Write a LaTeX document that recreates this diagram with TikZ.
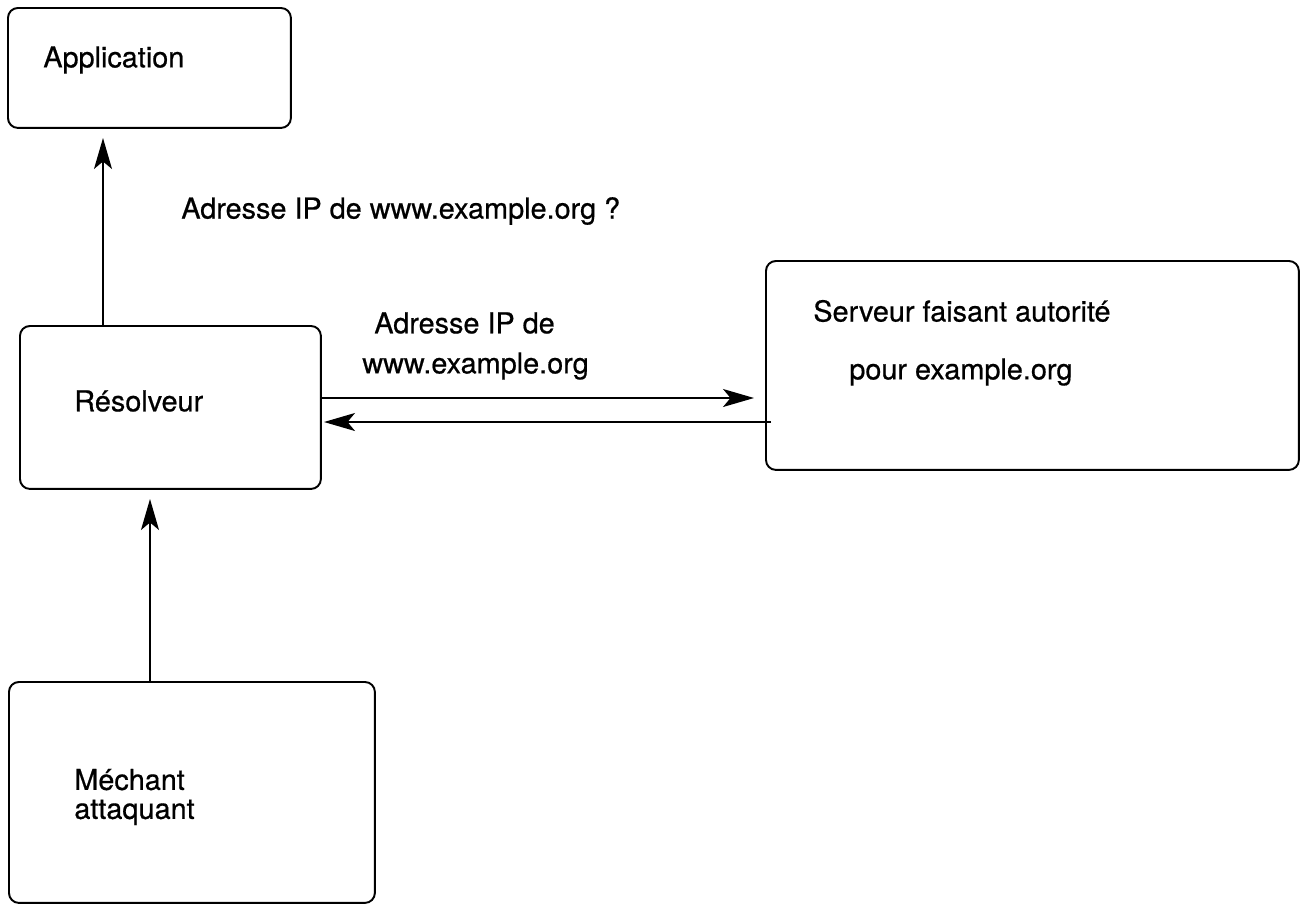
\documentclass[tikz,border=0pt]{standalone}
\usepackage{fontspec}
\setmainfont{TeX Gyre Heros}
\newfontfamily\herosepais{TeX Gyre Heros}[FakeBold=0.6]
\usetikzlibrary{arrows.meta}

\tikzset{
  boite/.style={draw, line width=1.1pt, rounded corners=0.2cm, anchor=north west, inner sep=0pt},
  texte/.style={anchor=west, inner sep=0pt, font=\herosepais\fontsize{16.4}{16.5}\selectfont},
  fleche/.style={line width=0.9pt, -{Stealth[length=0.62cm, width=0.36cm, inset=0.15cm]}}
}

\begin{document}
\begin{tikzpicture}[x=0.02cm, y=-0.02cm]
\useasboundingbox (0,0) rectangle (1302,903);
% boites
\node[boite, minimum width=5.66cm, minimum height=2.4cm] (app) at (7,7) {};
\node[boite, minimum width=6.02cm, minimum height=3.26cm] (res) at (19,325) {};
\node[boite, minimum width=10.66cm, minimum height=4.18cm] (serv) at (765,260) {};
\node[boite, minimum width=7.32cm, minimum height=4.42cm] (mech) at (8,681) {};
% textes
\node[texte] (tapp) at (43,60) {Application};
\node[texte] (tres) at (74,401) {Résolveur};
\node[texte, align=left] (tmech) at (74,797) {Méchant\\attaquant};
\node[texte] (tserv1) at (813,311) {Serveur faisant autorité};
\node[texte] (tserv2) at (849,372) {pour example.org};
\node[texte] (tquest) at (181,211) {Adresse IP de www.example.org ?};
\node[texte] (trep1) at (374,323) {Adresse IP de};
\node[texte] (trep2) at (362,366) {www.example.org};
% fleches
\coordinate (versapp) at (103,138);
\coordinate (versres) at (150,499);
\coordinate (versserv) at (754,398);
\coordinate (depserv) at (771,422);
\coordinate (retour) at (324,422);
\draw[fleche] (res.north -| versapp) -- (versapp);
\draw[fleche] (mech.north -| versres) -- (versres);
\draw[fleche] (res.east |- versserv) -- (versserv);
\draw[fleche] (depserv) -- (retour);
\end{tikzpicture}
\end{document}
